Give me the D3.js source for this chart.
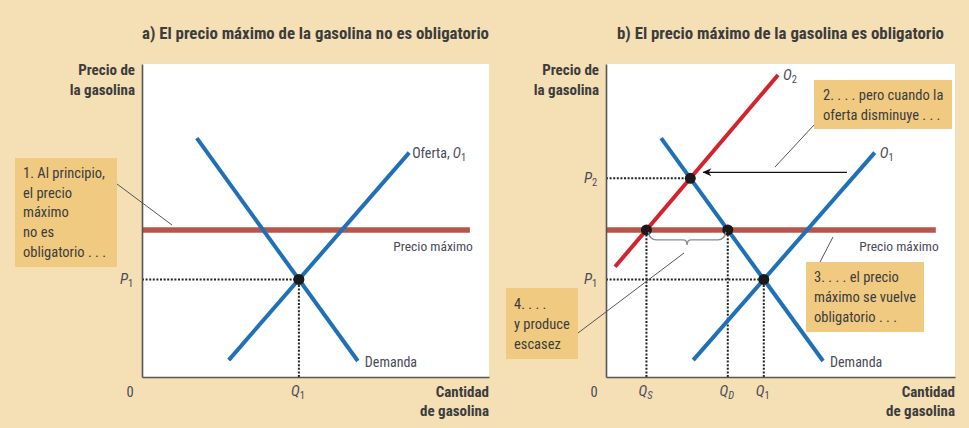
<!DOCTYPE html>
<html>
<head>
<meta charset="utf-8">
<script src="https://cdn.jsdelivr.net/npm/d3@7"></script>
<style>
  html, body { margin: 0; padding: 0; background: #f5dfb5; }
  svg { display: block; }
  text { font-family: "Liberation Sans Narrow", "Roboto Condensed", "Arial Narrow", "Liberation Sans", sans-serif; }
</style>
</head>
<body>
<svg id="chart" width="969" height="428"></svg>
<script>
// ---------- DATA (quantity 0-100, price 0-100) ----------
const panelTitles = [
  "a) El precio máximo de la gasolina no es obligatorio",
  "b) El precio máximo de la gasolina es obligatorio"
];
const yAxisTitle = ["Precio de", "la gasolina"];
const xAxisTitle = ["Cantidad", "de gasolina"];
const demandLine = [[15.8, 76.3], [62.2, 5.1]];
const supplyO1 = [[25.0, 5.4], [77.0, 71.7]];
const supplyO2 = [[2.6, 35.2], [49.3, 96.5]];
const priceCeiling = 47.0;
const ceilingEnd = 94.5;
const calloutA = ["1. Al principio,", "el precio", "máximo", "no es", "obligatorio . . ."];
const calloutB2 = ["2. . . . pero cuando la", "oferta disminuye . . ."];
const calloutB3 = ["3. . . . el precio", "máximo se vuelve", "obligatorio . . ."];
const calloutB4 = ["4. . . .", "y produce", "escasez"];

// ---------- helpers ----------
function intersect(l1, l2) {
  const [[x1, y1], [x2, y2]] = l1, [[x3, y3], [x4, y4]] = l2;
  const m1 = (y2 - y1) / (x2 - x1), m2 = (y4 - y3) / (x4 - x3);
  const x = (y3 - y1 + m1 * x1 - m2 * x3) / (m1 - m2);
  return [x, y1 + m1 * (x - x1)];
}
function atPrice(l, p) {
  const [[x1, y1], [x2, y2]] = l;
  return x1 + (p - y1) * (x2 - x1) / (y2 - y1);
}

const svg = d3.select("#chart");
const BG = "#f5dfb5", BOX = "#f0ca80", BLUE = "#1f70b7", RED = "#d2232e", CEIL = "#b8554b";
const TXT = "#3c3c3c", LBL = "#4a4a58";

svg.append("rect").attr("width", 969).attr("height", 428).attr("fill", BG);

const defs = svg.append("defs");
defs.append("marker").attr("id", "arr").attr("viewBox", "0 0 10 10")
  .attr("refX", 9).attr("refY", 5).attr("markerWidth", 10).attr("markerHeight", 9)
  .attr("markerUnits", "userSpaceOnUse").attr("orient", "auto")
  .append("path").attr("d", "M10,5 L0,0.5 L3,5 L0,9.5 Z").attr("fill", "#111");

function sub(textSel, main, s, italicSub) {
  textSel.append("tspan").attr("font-style", "italic").text(main);
  textSel.append("tspan").attr("font-size", "10.5px").attr("dy", 3)
    .attr("font-style", italicSub ? "italic" : "normal").text(s);
}

function callout(x, y, w, h, lines, tx, ty, lh) {
  svg.append("rect").attr("x", x).attr("y", y).attr("width", w).attr("height", h).attr("fill", BOX);
  const t = svg.append("text").attr("font-size", "14.5px").attr("fill", TXT);
  lines.forEach((l, i) => t.append("tspan").attr("x", tx).attr("y", ty + i * lh).text(l));
}
function leader(x1, y1, x2, y2) {
  svg.append("line").attr("x1", x1).attr("y1", y1).attr("x2", x2).attr("y2", y2)
    .attr("stroke", "#555").attr("stroke-width", 1);
}

function panel(idx, left, right, titleX, titleW, yTitleX) {
  const top = 64, bottom = 377;
  const x = d3.scaleLinear().domain([0, 100]).range([left, right]);
  const y = d3.scaleLinear().domain([0, 100]).range([bottom, top]);
  const g = svg.append("g");
  g.append("rect").attr("x", left).attr("y", top).attr("width", right - left).attr("height", bottom - top).attr("fill", "#fff");

  // title
  g.append("text").attr("x", titleX).attr("y", 39).attr("font-size", "16px").attr("font-weight", "bold")
    .attr("fill", TXT).attr("textLength", titleW).attr("lengthAdjust", "spacingAndGlyphs").text(panelTitles[idx]);
  // y title
  yAxisTitle.forEach((t, i) => g.append("text").attr("x", yTitleX).attr("y", 75 + i * 20)
    .attr("text-anchor", "end").attr("font-size", "15px").attr("font-weight", "bold").attr("fill", TXT).text(t));
  // x title
  xAxisTitle.forEach((t, i) => g.append("text").attr("x", right).attr("y", 397 + i * 19)
    .attr("text-anchor", "end").attr("font-size", "15px").attr("font-weight", "bold").attr("fill", TXT).text(t));

  const line = d3.line().x(d => x(d[0])).y(d => y(d[1]));
  const dotted = (pts) => g.append("path").attr("d", line(pts)).attr("fill", "none")
    .attr("stroke", "#222").attr("stroke-width", 2).attr("stroke-dasharray", "2,1.6");

  const eq1 = intersect(demandLine, supplyO1);

  // zero label
  g.append("text").attr("x", x(0) - 12).attr("y", 397).attr("text-anchor", "middle")
    .attr("font-size", "14.5px").attr("fill", LBL).text("0");

  if (idx === 0) {
    dotted([[0, eq1[1]], eq1]);
    dotted([[eq1[0], 0], eq1]);
  } else {
    const eq2 = intersect(demandLine, supplyO2);
    const qs = atPrice(supplyO2, priceCeiling), qd = atPrice(demandLine, priceCeiling);
    dotted([[0, eq2[1]], eq2]);
    dotted([[0, eq1[1]], eq1]);
    dotted([[eq1[0], 0], eq1]);
    dotted([[qs, 0], [qs, priceCeiling]]);
    dotted([[qd, 0], [qd, priceCeiling]]);
  }

  // price ceiling
  g.append("path").attr("d", line([[0, priceCeiling], [ceilingEnd, priceCeiling]]))
    .attr("stroke", CEIL).attr("stroke-width", 5.5).attr("fill", "none");

  // curves
  g.append("path").attr("d", line(demandLine)).attr("stroke", BLUE).attr("stroke-width", 4).attr("fill", "none");
  g.append("path").attr("d", line(supplyO1)).attr("stroke", BLUE).attr("stroke-width", 4).attr("fill", "none");

  // axes
  const ax = g.append("g").attr("transform", `translate(0,${bottom})`)
    .call(d3.axisBottom(x).tickValues([]).tickSizeOuter(0));
  const ay = g.append("g").attr("transform", `translate(${left},0)`)
    .call(d3.axisLeft(y).tickValues([]).tickSizeOuter(0));
  [ax, ay].forEach(a => a.select(".domain").attr("stroke", "#555").attr("stroke-width", 1.6));

  const dot = (p) => g.append("circle").attr("cx", x(p[0])).attr("cy", y(p[1])).attr("r", 5.5).attr("fill", "#1a1a1a");

  // labels
  const lab = (px, py, anchor) => g.append("text").attr("x", px).attr("y", py).attr("text-anchor", anchor)
    .attr("font-size", "15px").attr("fill", LBL);

  sub(lab(left - 22, y(eq1[1]) + 5, "start"), "P", "1");
  sub(lab(x(eq1[0]) - 1, 396, "middle"), "Q", "1");
  g.append("text").attr("x", x(ceilingEnd) + 3).attr("y", y(priceCeiling) + 21).attr("text-anchor", "end")
    .attr("font-size", "13.5px").attr("fill", LBL).text("Precio máximo");
  g.append("text").attr("x", x(demandLine[1][0]) + 7).attr("y", y(demandLine[1][1]) + 6)
    .attr("font-size", "14px").attr("fill", LBL).text("Demanda");

  if (idx === 0) {
    dot(eq1);
    const t = g.append("text").attr("x", x(supplyO1[1][0]) + 3).attr("y", y(supplyO1[1][1]) + 5)
      .attr("font-size", "14px").attr("fill", LBL);
    t.append("tspan").text("Oferta, ");
    sub(t, "O", "1");
  } else {
    const eq2 = intersect(demandLine, supplyO2);
    const qs = atPrice(supplyO2, priceCeiling), qd = atPrice(demandLine, priceCeiling);
    g.append("path").attr("d", line(supplyO2)).attr("stroke", RED).attr("stroke-width", 4).attr("fill", "none");
    dot(eq1); dot(eq2); dot([qs, priceCeiling]); dot([qd, priceCeiling]);
    sub(lab(left - 22, y(eq2[1]) + 5, "start"), "P", "2");
    sub(lab(x(qs) - 1, 396, "middle"), "Q", "S", true);
    sub(lab(x(qd) - 1, 396, "middle"), "Q", "D", true);
    sub(g.append("text").attr("x", x(supplyO1[1][0]) + 5).attr("y", y(supplyO1[1][1]) + 5)
      .attr("font-size", "15px").attr("fill", LBL), "O", "1");
    sub(g.append("text").attr("x", x(supplyO2[1][0]) + 5).attr("y", y(supplyO2[1][1]) + 5)
      .attr("font-size", "15px").attr("fill", LBL), "O", "2");
    // arrow from O1 toward the new equilibrium
    g.append("line").attr("x1", 847).attr("y1", y(eq2[1]) - 6).attr("x2", x(eq2[0]) + 13).attr("y2", y(eq2[1]) - 6)
      .attr("stroke", "#111").attr("stroke-width", 1.2).attr("marker-end", "url(#arr)");
    // brace under the shortage
    const bx1 = x(qs) + 2, bx2 = x(qd) - 2, by = y(priceCeiling) + 2, mid = (bx1 + bx2) / 2;
    g.append("path").attr("d",
      `M${bx1},${by} Q${bx1 + 1},${by + 8} ${bx1 + 8},${by + 8} L${mid - 4},${by + 8} Q${mid},${by + 8} ${mid},${by + 13} ` +
      `Q${mid},${by + 8} ${mid + 4},${by + 8} L${bx2 - 8},${by + 8} Q${bx2 - 1},${by + 8} ${bx2},${by}`)
      .attr("fill", "none").attr("stroke", "#8a8a8a").attr("stroke-width", 1.4);
  }
}

panel(0, 142, 489, 142, 347, 135);
panel(1, 606, 955, 617, 327, 599);

// callouts
callout(15, 158, 102, 109, calloutA, 23, 178, 19.7);
leader(117, 184, 172, 225);

callout(814, 80, 138, 49, calloutB2, 823, 100, 20);
leader(814, 125, 775, 167);

callout(806, 262, 118, 70, calloutB3, 814, 282, 20);
leader(820, 262, 833, 237);

callout(506, 288, 72, 71, calloutB4, 514, 309, 20);
leader(578, 333, 684, 253);
</script>
</body>
</html>
